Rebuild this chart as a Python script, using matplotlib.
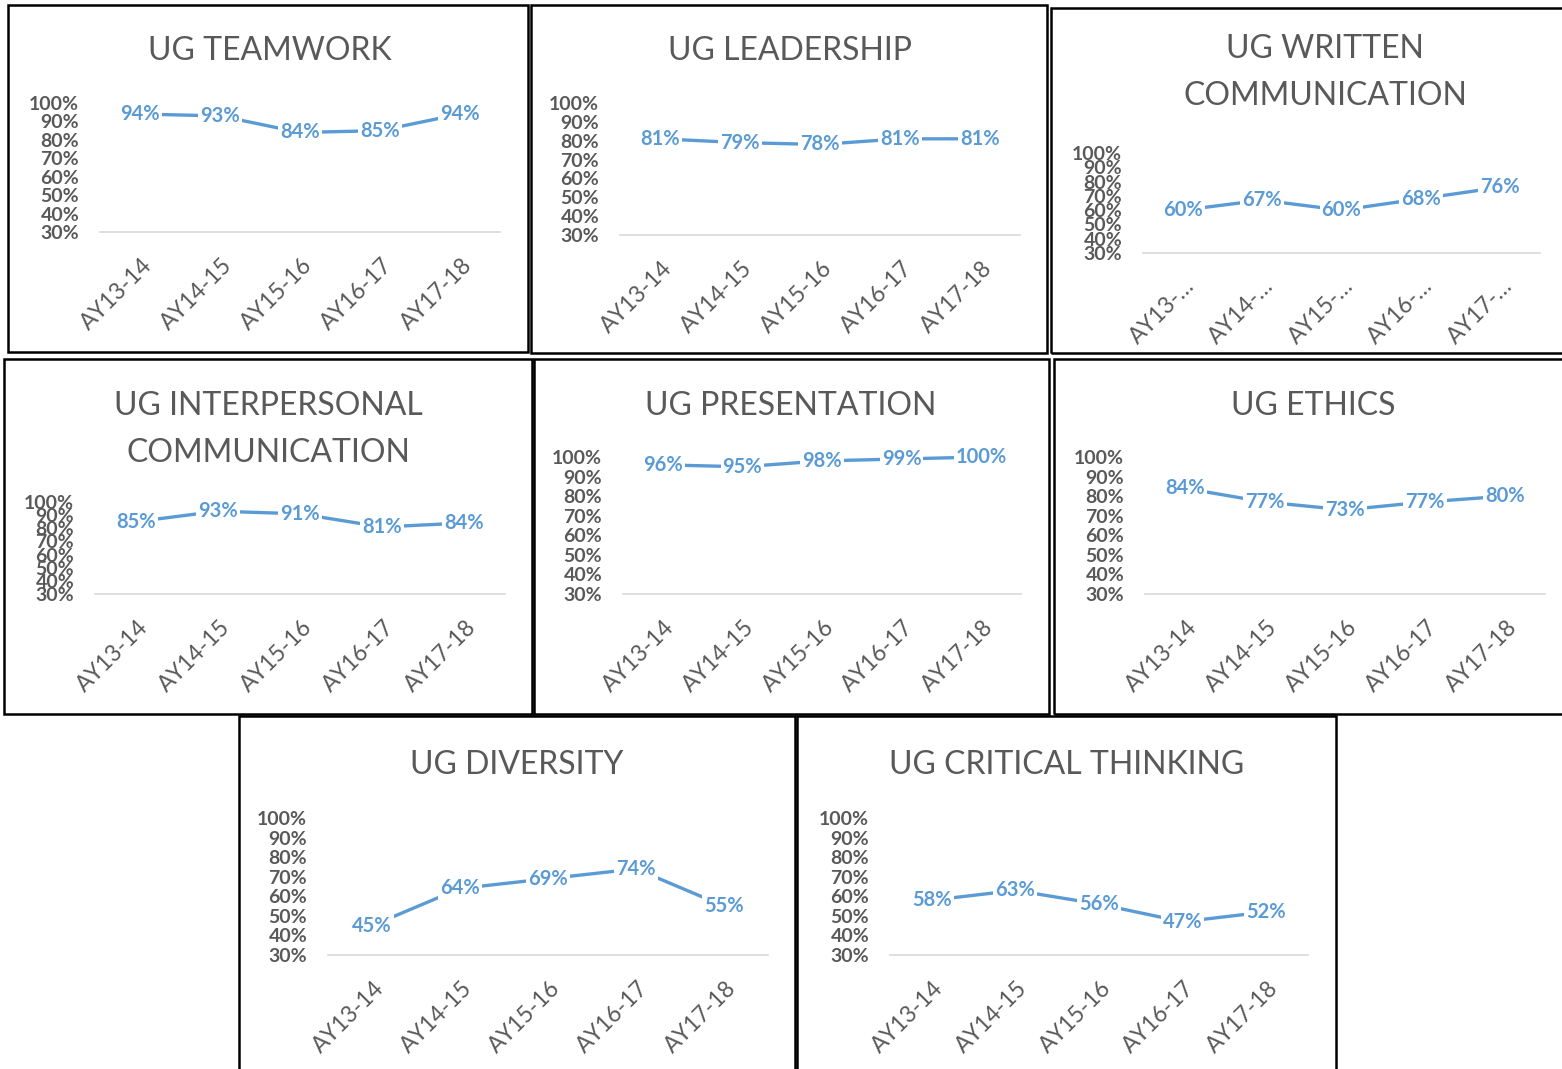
import matplotlib
matplotlib.use("Agg")
import matplotlib.pyplot as plt
import matplotlib.patches as mpatches
import matplotlib.transforms as mtransforms

plt.rcParams['font.family'] = ['Lato', 'DejaVu Sans']

# ---------------- data ----------------
categories = ["AY13-14", "AY14-15", "AY15-16", "AY16-17", "AY17-18"]
categories_short = ["AY13-\u2026", "AY14-\u2026", "AY15-\u2026", "AY16-\u2026", "AY17-\u2026"]
y_ticks = [30, 40, 50, 60, 70, 80, 90, 100]

teamwork = [94, 93, 84, 85, 94]
leadership = [81, 79, 78, 81, 81]
written_comm = [60, 67, 60, 68, 76]
interpersonal = [85, 93, 91, 81, 84]
presentation = [96, 95, 98, 99, 100]
ethics = [84, 77, 73, 77, 80]
diversity = [45, 64, 69, 74, 55]
critical_thinking = [58, 63, 56, 47, 52]

titles = [
    ["UG TEAMWORK"],
    ["UG LEADERSHIP"],
    ["UG WRITTEN", "COMMUNICATION"],
    ["UG INTERPERSONAL", "COMMUNICATION"],
    ["UG PRESENTATION"],
    ["UG ETHICS"],
    ["UG DIVERSITY"],
    ["UG CRITICAL THINKING"],
]
series = [teamwork, leadership, written_comm, interpersonal,
          presentation, ethics, diversity, critical_thinking]
xlabels = [categories, categories, categories_short, categories,
           categories, categories, categories, categories]

# ---------------- layout (pixels, top-left origin) ----------------
W, H = 1562, 1069
# border box, axes x0, x1, y(100%), y(30%), title center x, title line ys
layout = [
    ((8, 5, 528, 352), 100, 500, 103, 232, 270, [48]),
    ((531, 5, 1047, 353), 620, 1020, 103, 235, 790, [48]),
    ((1051, 8, 1566, 353), 1143, 1540, 153, 253, 1325, [46, 93]),
    ((4, 359, 532, 714), 95, 505, 502, 594, 268, [403, 450]),
    ((534, 359, 1049, 714), 623, 1021, 457, 594, 791, [403]),
    ((1054, 359, 1566, 714), 1145, 1545, 457, 594, 1313, [403]),
    ((239, 716, 795, 1075), 328, 768, 818, 955, 517, [762]),
    ((797, 716, 1336, 1075), 890, 1308, 818, 955, 1067, [762]),
]

LINE_BLUE = "#5B9BD5"
GREY = "#595959"

fig = plt.figure(figsize=(W / 100, H / 100), dpi=100)
fig.patch.set_facecolor("white")

def fx(x):
    return x / W

def fy(y):
    return 1 - y / H

for (box, ax0, ax1, y100, y30, tcx, tys), title, vals, xl in zip(layout, titles, series, xlabels):
    bx0, by0, bx1, by1 = box
    rect = mpatches.Rectangle((fx(bx0), fy(by1)), fx(bx1) - fx(bx0), fy(by0) - fy(by1),
                              transform=fig.transFigure, fill=False,
                              edgecolor="black", linewidth=1.8, zorder=0)
    fig.patches.append(rect)

    for line, ty in zip(title, tys):
        fig.text(fx(tcx), fy(ty + 3), line, ha="center", va="center",
                 fontsize=23, color=GREY)

    ax = fig.add_axes([fx(ax0), fy(y30), fx(ax1) - fx(ax0), fy(y100) - fy(y30)])
    ax.set_facecolor("none")
    ax.set_xlim(-0.5, len(vals) - 0.5)
    ax.set_ylim(30, 100)
    for s in ["top", "right", "left"]:
        ax.spines[s].set_visible(False)
    ax.spines["bottom"].set_color("#D9D9D9")
    ax.spines["bottom"].set_linewidth(1.2)

    ax.set_yticks(y_ticks)
    ax.set_yticklabels([f"{t}%" for t in y_ticks], fontsize=14, color=GREY,
                       fontweight="bold")
    ax.tick_params(axis="y", length=0, pad=15)

    xs = list(range(len(vals)))
    ax.set_xticks(xs)
    ax.set_xticklabels(xl, fontsize=16.5, color=GREY, rotation=45,
                       ha="right", va="top", rotation_mode="anchor")
    ax.tick_params(axis="x", length=0, pad=16)
    offset = mtransforms.ScaledTranslation(1 / 100, 0, fig.dpi_scale_trans)
    for lab in ax.get_xticklabels():
        lab.set_transform(lab.get_transform() + offset)

    ax.plot(xs, vals, color=LINE_BLUE, linewidth=2.4, zorder=2, clip_on=False)
    for x, v in zip(xs, vals):
        ax.text(x, v, f"{v}%", ha="center", va="center", fontsize=14.5,
                fontweight="bold", color=LINE_BLUE, zorder=3,
                bbox=dict(facecolor="white", edgecolor="none", pad=1.5))

fig.savefig("out.png", dpi=100, facecolor="white")
